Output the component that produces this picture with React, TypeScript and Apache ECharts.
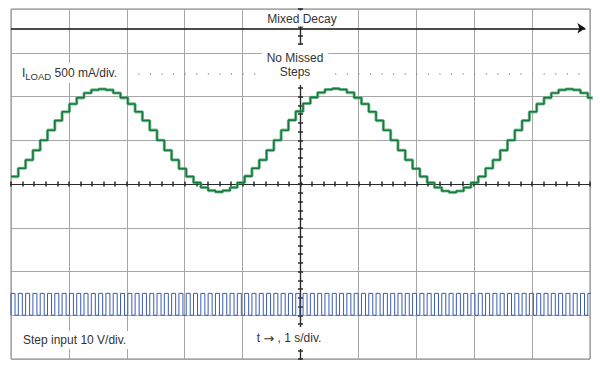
import React, { useEffect, useRef } from "react";
import * as echarts from "echarts";

// Time axis: 10 divisions (1 s/div), centred on 0. Vertical: 8 divisions, centred on 0.
const xMin = -5;
const xMax = 5;
const yMin = -4;
const yMax = 4;

// Load current staircase (divisions), one level per step-input pulse.
const stepLevels = [
  0.17, 0.36, 0.55, 0.77, 1.0, 1.23, 1.45, 1.65, 1.83, 1.97, 2.08, 2.15, 2.17, 2.15, 2.08, 1.97,
  1.83, 1.65, 1.45, 1.23, 1.0, 0.77, 0.55, 0.35, 0.17, 0.03, -0.08, -0.15, -0.18, -0.15, -0.08, 0.03,
  0.18, 0.36, 0.55, 0.77, 1.0, 1.23, 1.46, 1.66, 1.84, 1.98, 2.09, 2.16, 2.18, 2.16, 2.09, 1.97,
  1.83, 1.65, 1.45, 1.23, 1.0, 0.77, 0.55, 0.35, 0.17, 0.03, -0.08, -0.16, -0.19, -0.16, -0.08, 0.03,
  0.17, 0.36, 0.55, 0.77, 1.0, 1.23, 1.45, 1.65, 1.83, 1.97, 2.08, 2.15, 2.17, 2.15, 2.08, 1.97,
];
const stepStart = -5.0; // s
const stepDuration = 0.1261; // s per step pulse

// Step input pulse levels (divisions) and duty
const pulseHigh = -2.5;
const pulseLow = -3.0;
const pulseDuty = 0.55;

// Annotation levels
const arrowLevel = 3.56;
const dottedLevel = 2.52;
const dottedFrom = -2.8;

export default function App() {
  const ref = useRef<HTMLDivElement>(null);

  useEffect(() => {
    if (!ref.current) return;
    const chart = echarts.init(ref.current, undefined, { renderer: "svg" });

    const current: number[][] = [];
    const pulses: number[][] = [];
    stepLevels.forEach((lv, i) => {
      const t0 = stepStart + i * stepDuration;
      const t1 = t0 + stepDuration;
      current.push([t0, lv], [t1, lv]);
      const tf = t0 + pulseDuty * stepDuration;
      pulses.push([t0, pulseLow], [t0, pulseHigh], [tf, pulseHigh], [tf, pulseLow], [t1, pulseLow]);
    });

    const font = "Liberation Sans, Arial, sans-serif";
    const textColor = "#333";

    const centerAxis = (position: string, isX: boolean) => ({
      type: "value",
      min: isX ? xMin : yMin,
      max: isX ? xMax : yMax,
      interval: 1,
      position,
      z: 3,
      axisLine: { show: true, onZero: true, onZeroAxisIndex: 0, lineStyle: { color: "#2a2a2a", width: 1.2 } },
      axisTick: { show: true, length: 2.5, lineStyle: { color: "#2a2a2a", width: 1.5 } },
      minorTick: { show: true, splitNumber: 5, length: 2.5, lineStyle: { color: "#2a2a2a", width: 1.5 } },
      axisLabel: { show: false },
      splitLine: { show: false },
    });

    const gridAxis = (isX: boolean) => ({
      type: "value",
      min: isX ? xMin : yMin,
      max: isX ? xMax : yMax,
      interval: 1,
      z: 0,
      axisLine: { show: false },
      axisTick: { show: false },
      axisLabel: { show: false },
      splitLine: { show: true, lineStyle: { color: "#a6a6a6", width: 1 } },
    });

    chart.setOption({
      animation: false,
      backgroundColor: "#ffffff",
      grid: {
        left: 11,
        right: 10,
        top: 9,
        bottom: 10,
        show: true,
        borderColor: "#808080",
        borderWidth: 1,
        backgroundColor: "transparent",
      },
      xAxis: [gridAxis(true), centerAxis("bottom", true), centerAxis("top", true)],
      yAxis: [gridAxis(false), centerAxis("left", false), centerAxis("right", false)],
      series: [
        {
          type: "line",
          data: pulses,
          symbol: "none",
          z: 4,
          lineStyle: { color: "#3a5cb4", width: 1 },
        },
        {
          type: "line",
          data: current,
          symbol: "none",
          z: 5,
          lineStyle: { color: "#4aa56c", width: 3.2, opacity: 0.7 },
        },
        {
          type: "line",
          data: current,
          symbol: "none",
          z: 6,
          lineStyle: { color: "#167a3c", width: 1.6 },
          markLine: {
            silent: true,
            animation: false,
            symbol: ["none", "arrow"],
            symbolSize: 8,
            label: { show: false },
            lineStyle: { color: "#111", width: 1.5, type: "solid" },
            data: [[{ coord: [xMin, arrowLevel] }, { coord: [4.92, arrowLevel] }]],
          },
        },
        {
          type: "line",
          data: [],
          symbol: "none",
          z: 3,
          markLine: {
            silent: true,
            animation: false,
            symbol: ["none", "none"],
            label: { show: false },
            lineStyle: { color: "#8a8a8a", width: 1.5, type: [1, 10.58] },
            data: [[{ coord: [dottedFrom, dottedLevel] }, { coord: [xMax, dottedLevel] }]],
          },
        },
      ],
      graphic: [
        {
          type: "text",
          x: 302,
          y: 18.5,
          z: 20,
          style: {
            text: "Mixed Decay",
            fill: textColor,
            font: `12px ${font}`,
            align: "center",
            verticalAlign: "middle",
            textAlign: "center",
            textVerticalAlign: "middle",
            backgroundColor: "#fff",
            padding: [2, 4],
          },
        },
        {
          type: "text",
          x: 295,
          y: 65,
          z: 20,
          style: {
            text: "No Missed\nSteps",
            fill: textColor,
            font: `12px ${font}`,
            lineHeight: 14,
            align: "center",
            verticalAlign: "middle",
            textAlign: "center",
            textVerticalAlign: "middle",
            backgroundColor: "#fff",
            padding: [6, 5, 6, 5],
          },
        },
        {
          type: "text",
          x: 19,
          y: 73,
          z: 20,
          style: {
            text: "{a|I}{b|LOAD}{a| 500 mA/div.}",
            fill: textColor,
            align: "left",
            verticalAlign: "middle",
            textAlign: "left",
            textVerticalAlign: "middle",
            backgroundColor: "#fff",
            padding: [2, 3],
            rich: {
              a: { fontSize: 12, fontFamily: font, fill: textColor, lineHeight: 16 },
              b: { fontSize: 9.5, fontFamily: font, fill: textColor, lineHeight: 12, verticalAlign: "bottom" },
            },
          },
        },
        {
          type: "text",
          x: 20,
          y: 340,
          z: 20,
          style: {
            text: "Step input 10 V/div.",
            fill: textColor,
            font: `12px ${font}`,
            align: "left",
            verticalAlign: "middle",
            textAlign: "left",
            textVerticalAlign: "middle",
            backgroundColor: "#fff",
            padding: [3, 3],
          },
        },
        {
          type: "text",
          x: 289,
          y: 338,
          z: 20,
          style: {
            text: "{a|t }{b|\u2192}{a| , 1 s/div.}",
            fill: textColor,
            align: "center",
            verticalAlign: "middle",
            textAlign: "center",
            textVerticalAlign: "middle",
            backgroundColor: "#fff",
            padding: [3, 4],
            rich: {
              a: { fontSize: 12, fontFamily: font, fill: textColor, lineHeight: 16 },
              b: { fontSize: 13, fontFamily: "DejaVu Sans, sans-serif", fill: textColor, lineHeight: 16 },
            },
          },
        },
      ],
    });

    return () => chart.dispose();
  }, []);

  return (
    <div
      ref={ref}
      style={{ position: "fixed", left: 0, top: 0, width: 600, height: 369, background: "#fff" }}
    />
  );
}
